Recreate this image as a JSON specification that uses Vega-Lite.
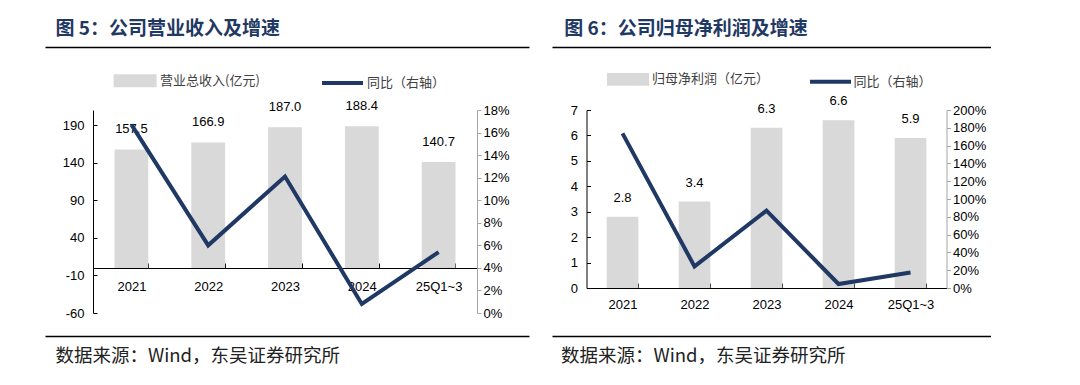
{
  "$schema": "https://vega.github.io/schema/vega-lite/v6.json",
  "background": "white",
  "padding": {"left": 55, "top": 19, "right": 5, "bottom": 5},
  "width": 384,
  "height": 203,
  "datasets": {
    "rev": [
      {"period": "2021", "value": 157.5, "yoy": 0.167},
      {"period": "2022", "value": 166.9, "yoy": 0.060},
      {"period": "2023", "value": 187.0, "yoy": 0.121},
      {"period": "2024", "value": 188.4, "yoy": 0.008},
      {"period": "25Q1~3", "value": 140.7, "yoy": 0.054}
    ],
    "np": [
      {"period": "2021", "value": 2.8, "yoy": 1.737},
      {"period": "2022", "value": 3.4, "yoy": 0.243},
      {"period": "2023", "value": 6.3, "yoy": 0.869},
      {"period": "2024", "value": 6.6, "yoy": 0.045},
      {"period": "25Q1~3", "value": 5.9, "yoy": 0.175}
    ]
  },
  "layer": [
    {
      "data": {"name": "rev"},
      "mark": {"type": "bar"},
      "encoding": {
        "x": {"field": "period", "type": "nominal", "sort": null,
          "scale": {"type": "band", "paddingInner": 0.56, "paddingOuter": 0.28},
          "axis": {"orient": "bottom", "offset": -45, "title": null, "labelAngle": 0, "domainColor": "#000", "tickColor": "#000", "tickBand": "extent", "tickSize": -5, "labelPadding": 17}},
        "y": {"field": "value", "type": "quantitative", "scale": {"domain": [-60, 210], "nice": false, "zero": false},
          "axis": {"orient": "left", "values": [-60, -10, 40, 90, 140, 190], "title": null, "domainColor": "#000", "tickColor": "#000", "tickSize": -4, "labelPadding": 13, "labelExpr": "replace(datum.label, '−', '-')"}},
        "y2": {"datum": 0},
        "fill": {"datum": "营业总收入(亿元)", "type": "nominal", "scale": {"range": ["#d9d9d9"]},
          "legend": {"orient": "none", "legendX": 20.6, "legendY": -50.8, "title": null, "symbolType": "M-1,-0.3H1V0.3H-1Z", "symbolSize": 1849, "symbolStrokeWidth": 0, "labelFont": "Noto Sans CJK SC", "labelFontSize": 13, "labelColor": "#404040", "labelOffset": 3.4, "padding": 0}}
      }
    },
    {
      "data": {"name": "rev"},
      "mark": {"type": "text", "baseline": "middle", "dy": -20, "fontSize": 13, "color": "#000", "font": "Liberation Sans"},
      "encoding": {
        "x": {"field": "period", "type": "nominal", "sort": null,
          "scale": {"type": "band", "paddingInner": 0.56, "paddingOuter": 0.28}, "axis": null},
        "y": {"field": "value", "type": "quantitative", "scale": {"domain": [-60, 210], "nice": false, "zero": false}, "axis": null},
        "text": {"field": "value", "type": "quantitative", "format": ".1f"}
      }
    },
    {
      "data": {"name": "rev"},
      "mark": {"type": "line", "strokeWidth": 4},
      "encoding": {
        "x": {"field": "period", "type": "nominal", "sort": null,
          "scale": {"type": "band", "paddingInner": 0.56, "paddingOuter": 0.28}, "axis": null},
        "y": {"field": "yoy", "type": "quantitative", "scale": {"domain": [0, 0.18], "nice": false, "zero": false},
          "axis": {"orient": "right", "values": [0, 0.02, 0.04, 0.06, 0.08, 0.1, 0.12, 0.14, 0.16, 0.18], "format": ".0%", "title": null, "domainColor": "#a6a6a6", "tickColor": "#a6a6a6", "tickSize": 4, "labelPadding": 2}},
        "stroke": {"datum": "同比（右轴）", "type": "nominal", "scale": {"range": ["#1f3864"]},
          "legend": {"orient": "none", "legendX": 227, "legendY": -49.5, "title": null, "symbolType": "stroke", "symbolSize": 1681, "symbolStrokeWidth": 4, "labelFont": "Noto Sans CJK SC", "labelFontSize": 13, "labelColor": "#404040", "labelOffset": 2, "padding": 0}}
      }
    },
    {
      "data": {"name": "rev"},
      "mark": {"type": "point", "opacity": 0},
      "encoding": {
        "x": {"datum": 0.5, "type": "quantitative", "scale": {"domain": [0, 1], "range": [-48, 436], "nice": false, "zero": false},
          "axis": {"orient": "top", "offset": 63, "domain": true, "domainColor": "#000", "domainWidth": 1.5, "ticks": false, "labels": false, "grid": false,
            "title": "图 5：公司营业收入及增速", "titleFont": "Noto Sans CJK SC", "titleFontSize": 19, "titleFontWeight": "bold", "titleColor": "#1f3864", "titleAlign": "left", "titleAnchor": "start", "titleBaseline": "middle", "titleX": -38, "titleY": -18.4, "titleAngle": 0}}
      }
    },
    {
      "data": {"name": "rev"},
      "mark": {"type": "point", "opacity": 0},
      "encoding": {
        "x": {"datum": 0.5, "type": "quantitative", "scale": {"domain": [0, 1], "range": [-48, 436], "nice": false, "zero": false},
          "axis": {"orient": "bottom", "offset": 23, "domain": true, "domainColor": "#000", "domainWidth": 1.5, "ticks": false, "labels": false, "grid": false,
            "title": "数据来源：Wind，东吴证券研究所", "titleFont": "Noto Sans CJK SC", "titleFontSize": 18.5, "titleFontWeight": "normal", "titleColor": "#222", "titleAlign": "left", "titleAnchor": "start", "titleBaseline": "middle", "titleX": -38, "titleY": 19.3, "titleAngle": 0}}
      }
    },
    {
      "data": {"name": "np"},
      "mark": {"type": "bar"},
      "encoding": {
        "x": {"field": "period", "type": "nominal", "sort": null,
          "scale": {"type": "band", "paddingInner": 0.56, "paddingOuter": 0.28, "range": [493.5, 853.5]},
          "axis": {"orient": "bottom", "offset": -25, "title": null, "labelAngle": 0, "domainColor": "#000", "tickColor": "#000", "tickBand": "extent", "tickSize": -5, "labelPadding": 15}},
        "y": {"field": "value", "type": "quantitative", "scale": {"domain": [0, 7], "nice": false, "zero": false, "range": [178, 0]},
          "axis": {"orient": "left", "offset": -493.5, "values": [0, 1, 2, 3, 4, 5, 6, 7], "title": null, "domainColor": "#000", "tickColor": "#000", "tickSize": -4, "labelPadding": 13}},
        "y2": {"datum": 0},
        "fill": {"datum": "归母净利润（亿元）", "type": "nominal", "scale": {"range": ["#d9d9d9"]},
          "legend": {"orient": "none", "legendX": 514, "legendY": -51.6, "title": null, "symbolType": "M-1,-0.3H1V0.3H-1Z", "symbolSize": 1764, "symbolStrokeWidth": 0, "labelFont": "Noto Sans CJK SC", "labelFontSize": 13, "labelColor": "#404040", "labelOffset": 3, "padding": 0}}
      }
    },
    {
      "data": {"name": "np"},
      "mark": {"type": "text", "baseline": "middle", "dy": -19, "fontSize": 13, "color": "#000", "font": "Liberation Sans"},
      "encoding": {
        "x": {"field": "period", "type": "nominal", "sort": null,
          "scale": {"type": "band", "paddingInner": 0.56, "paddingOuter": 0.28, "range": [493.5, 853.5]}, "axis": null},
        "y": {"field": "value", "type": "quantitative", "scale": {"domain": [0, 7], "nice": false, "zero": false, "range": [178, 0]}, "axis": null},
        "text": {"field": "value", "type": "quantitative", "format": ".1f"}
      }
    },
    {
      "data": {"name": "np"},
      "mark": {"type": "line", "strokeWidth": 4},
      "encoding": {
        "x": {"field": "period", "type": "nominal", "sort": null,
          "scale": {"type": "band", "paddingInner": 0.56, "paddingOuter": 0.28, "range": [493.5, 853.5]}, "axis": null},
        "y": {"field": "yoy", "type": "quantitative", "scale": {"domain": [0, 2], "nice": false, "zero": false, "range": [178, 0]},
          "axis": {"orient": "right", "offset": 469.5, "values": [0, 0.2, 0.4, 0.6, 0.8, 1.0, 1.2, 1.4, 1.6, 1.8, 2.0], "format": ".0%", "title": null, "domainColor": "#a6a6a6", "tickColor": "#a6a6a6", "tickSize": 4, "labelPadding": 2}},
        "stroke": {"datum": "同比（右轴）", "type": "nominal", "scale": {"range": ["#1f3864"]},
          "legend": {"orient": "none", "legendX": 715, "legendY": -50.8, "title": null, "symbolType": "stroke", "symbolSize": 1681, "symbolStrokeWidth": 4, "labelFont": "Noto Sans CJK SC", "labelFontSize": 13, "labelColor": "#404040", "labelOffset": 0.5, "padding": 0}}
      }
    },
    {
      "data": {"name": "np"},
      "mark": {"type": "point", "opacity": 0},
      "encoding": {
        "x": {"datum": 0.5, "type": "quantitative", "scale": {"domain": [0, 1], "range": [459, 943], "nice": false, "zero": false},
          "axis": {"orient": "top", "offset": 63, "domain": true, "domainColor": "#000", "domainWidth": 1.5, "ticks": false, "labels": false, "grid": false,
            "title": "图 6：公司归母净利润及增速", "titleFont": "Noto Sans CJK SC", "titleFontSize": 19, "titleFontWeight": "bold", "titleColor": "#1f3864", "titleAlign": "left", "titleAnchor": "start", "titleBaseline": "middle", "titleX": 470.8, "titleY": -18.4, "titleAngle": 0}}
      }
    },
    {
      "data": {"name": "np"},
      "mark": {"type": "point", "opacity": 0},
      "encoding": {
        "x": {"datum": 0.5, "type": "quantitative", "scale": {"domain": [0, 1], "range": [459, 943], "nice": false, "zero": false},
          "axis": {"orient": "bottom", "offset": 23, "domain": true, "domainColor": "#000", "domainWidth": 1.5, "ticks": false, "labels": false, "grid": false,
            "title": "数据来源：Wind，东吴证券研究所", "titleFont": "Noto Sans CJK SC", "titleFontSize": 18.5, "titleFontWeight": "normal", "titleColor": "#222", "titleAlign": "left", "titleAnchor": "start", "titleBaseline": "middle", "titleX": 467.4, "titleY": 19.3, "titleAngle": 0}}
      }
    }
  ],
  "resolve": {
    "scale": {"x": "independent", "y": "independent", "fill": "independent", "stroke": "independent"},
    "axis": {"x": "independent", "y": "independent"},
    "legend": {"fill": "independent", "stroke": "independent"}
  },
  "config": {
    "view": {"stroke": null},
    "axis": {"grid": false, "labelFont": "Liberation Sans", "labelFontSize": 13, "labelColor": "#000"},
    "text": {"font": "Liberation Sans"}
  }
}
